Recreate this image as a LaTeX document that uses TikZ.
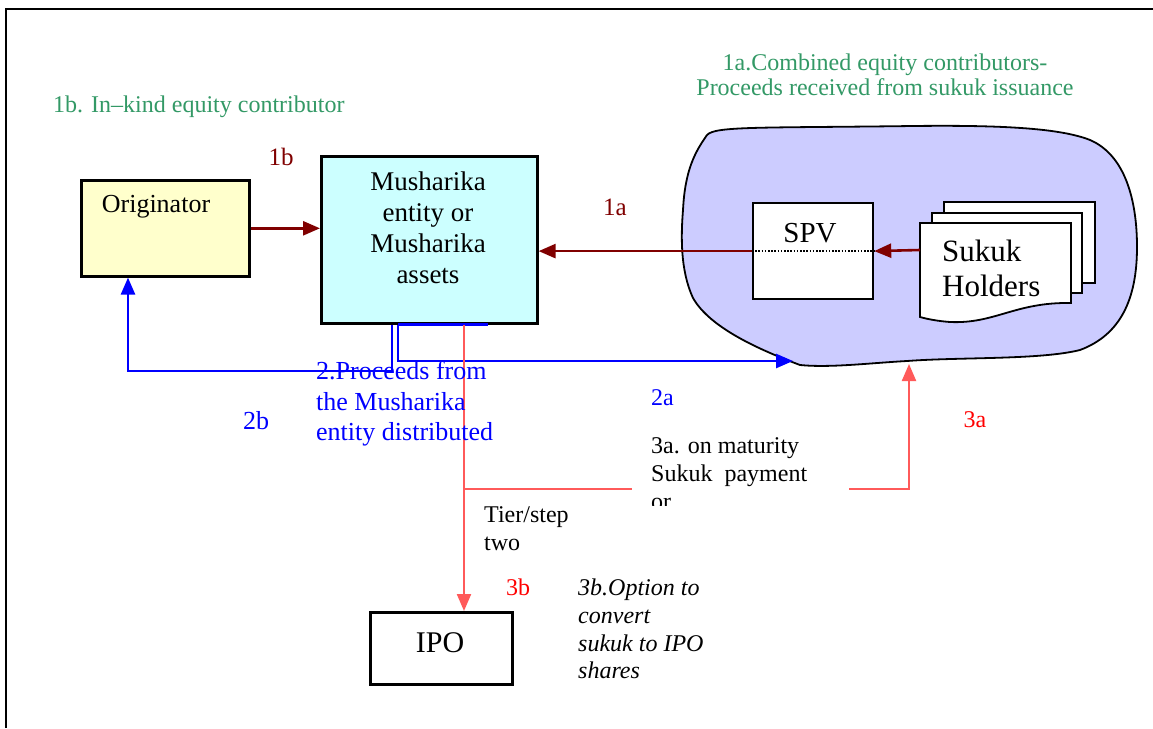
\documentclass[tikz,border=0pt]{standalone}
\usepackage{fontspec}
\setmainfont{Liberation Serif}
\usetikzlibrary{arrows.meta}
\definecolor{dred}{HTML}{800000}
\definecolor{mblue}{HTML}{0000FF}
\definecolor{lred}{HTML}{FF5A5A}
\definecolor{tred}{HTML}{FF0000}
\definecolor{mgreen}{HTML}{339966}
\definecolor{yfill}{HTML}{FFFFCC}
\definecolor{cfill}{HTML}{CCFFFF}
\definecolor{bfill}{HTML}{CCCCFF}
\newcommand{\fs}[2]{\fontsize{#1pt}{#2pt}\selectfont}
\tikzset{
  boxst/.style={draw=black, line width=2.6pt, inner sep=0pt, anchor=north west},
  txt/.style={inner sep=0pt, align=center},
  tip/.style={-{Triangle[length=17pt,width=14pt]}},
  redarrow/.style={tip, draw=dred, line width=2.6pt},
  bluearrow/.style={tip, draw=mblue, line width=2.6pt},
  bluel/.style={draw=mblue, line width=2.6pt},
  pinkarrow/.style={tip, draw=lred, line width=2.2pt},
  doc/.style={draw=black, fill=white, line width=1.8pt},
}
\begin{document}
\begin{tikzpicture}[x=1pt,y=-1pt]
\useasboundingbox (0,0) rectangle (1153,728);
\fill[white] (0,0) rectangle (1153,728);
% frame
\draw[line width=2pt] (6,728) -- (6,9) -- (1153,9);

% cloud
\draw[fill=bfill, line width=1.8pt] (707,135)
  .. controls (715,126) and (760,128) .. (913,126)
  .. controls (1000,125) and (1060,128) .. (1090,140)
  .. controls (1125,155) and (1137,200) .. (1137,247)
  .. controls (1137,300) and (1120,335) .. (1080,350)
  .. controls (1040,360) and (960,357) .. (907,361)
  .. controls (870,363) and (830,368) .. (800,365)
  .. controls (760,350) and (710,328) .. (693,298)
  .. controls (680,270) and (681,235) .. (683,210)
  .. controls (685,170) and (695,152) .. (707,135) -- cycle;
\coordinate (blobL) at (793,361);
\coordinate (blobB) at (909,364);

% boxes
\node[boxst, fill=yfill, minimum width=168pt, minimum height=96pt] (orig) at (80,179) {};
\node[boxst, fill=cfill, minimum width=216pt, minimum height=167pt] (mush) at (320,155) {};
\node[boxst, fill=white, line width=2.2pt, minimum width=120pt, minimum height=96pt] (spv) at (752,202) {};
\node[boxst, fill=white, minimum width=142pt, minimum height=72pt] (ipo) at (369,611) {};

% sukuk documents
\draw[doc] (944,202) rectangle (1095,283);
\draw[doc] (932,213) rectangle (1082,293);
\draw[doc] (920,223) -- (1071,223) -- (1071,303)
  .. controls (1015,302) and (995,324) .. (950,322)
  .. controls (937,321) and (927,319) .. (920,317) -- cycle;
\coordinate (sukL) at (920,250);
\begin{scope}
\clip (920,223) rectangle (1071,296);
\node[txt, anchor=west, align=left, font=\fs{31}{35}] (suk) at (942,268) {Sukuk\\Holders};
\end{scope}

% texts in boxes
\node[txt, font=\fs{26}{30}] (origt) at (156,207) {Originator};
\node[txt, font=\fs{27}{31}] (musht) at (428,228) {Musharika\\entity or\\Musharika\\assets};
\node[txt, font=\fs{29}{33}] (spvt) at (810,233) {SPV};
\node[txt, font=\fs{30}{34}] (ipot) at (440,643) {IPO};

% dark red connectors
\draw[redarrow] (orig.east) -- (mush.west |- orig.east);
\draw[redarrow] (spv.west) -- (mush.east |- spv.west);
\draw[redarrow] (sukL) -- (spv.east);
\draw[black, line width=1.6pt, dash pattern=on 1.6pt off 1.6pt] (spv.west) -- (spv.east);

% blue connectors
\coordinate (c2b) at (128,371);
\draw[bluearrow] ([xshift=72pt]mush.south west) |- (c2b) -- ([xshift=48pt]orig.south west);
\draw[bluearrow] ([xshift=78pt]mush.south west) |- (blobL);
\draw[bluel] ([xshift=78pt]mush.south west) -- ([xshift=168pt]mush.south west);

% red connectors
\coordinate (rtop) at ([xshift=144pt]mush.south west);
\draw[pinkarrow] (rtop) -- (rtop |- ipo.north);
\coordinate (rj) at (rtop |- 0,489);
\draw[pinkarrow] (rj) -| (blobB);

% 3a text, white box over the red line
\begin{scope}
\clip (632,428) rectangle (849,505);
\fill[white] (632,428) rectangle (849,505);
\node[txt, anchor=west, align=left, font=\fs{24}{28}] (t3a) at (651,474) {3a. on maturity\\Sukuk\ \ payment\\or};
\end{scope}

% labels
\node[txt, anchor=west, text=mgreen, font=\fs{24}{28}] (g1b) at (53,107) {1b. In–kind equity contributor};
\node[txt, text=mgreen, font=\fs{24}{24.5}] (g1a) at (885,75) {1a.Combined equity contributors-\\Proceeds received from sukuk issuance};
\node[txt, text=dred, font=\fs{25}{28}] (l1b) at (281,157) {1b};
\node[txt, text=dred, font=\fs{25}{28}] (l1a) at (615,207) {1a};
\node[txt, text=mblue, font=\fs{26}{30}] (l2b) at (256,421) {2b};
\node[txt, anchor=west, text=mblue, font=\fs{24}{28}] (l2a) at (651,398) {2a};
\node[txt, text=tred, font=\fs{24}{28}] (l3a) at (975,420) {3a};
\node[txt, text=tred, font=\fs{24}{28}] (l3b) at (518,587) {3b};
\node[txt, anchor=west, align=left, text=mblue, font=\fs{26}{30.5}] (l2) at (316,404) {2.Proceeds from\\the Musharika\\entity distributed};
\node[txt, anchor=west, align=left, font=\fs{24}{28}] (tier) at (484,529) {Tier/step\\two};
\node[txt, anchor=west, align=left, font=\itshape\fs{24}{27.7}] (l3bt) at (578,629) {3b.Option to\\convert\\sukuk to IPO\\shares};
\end{tikzpicture}
\end{document}
